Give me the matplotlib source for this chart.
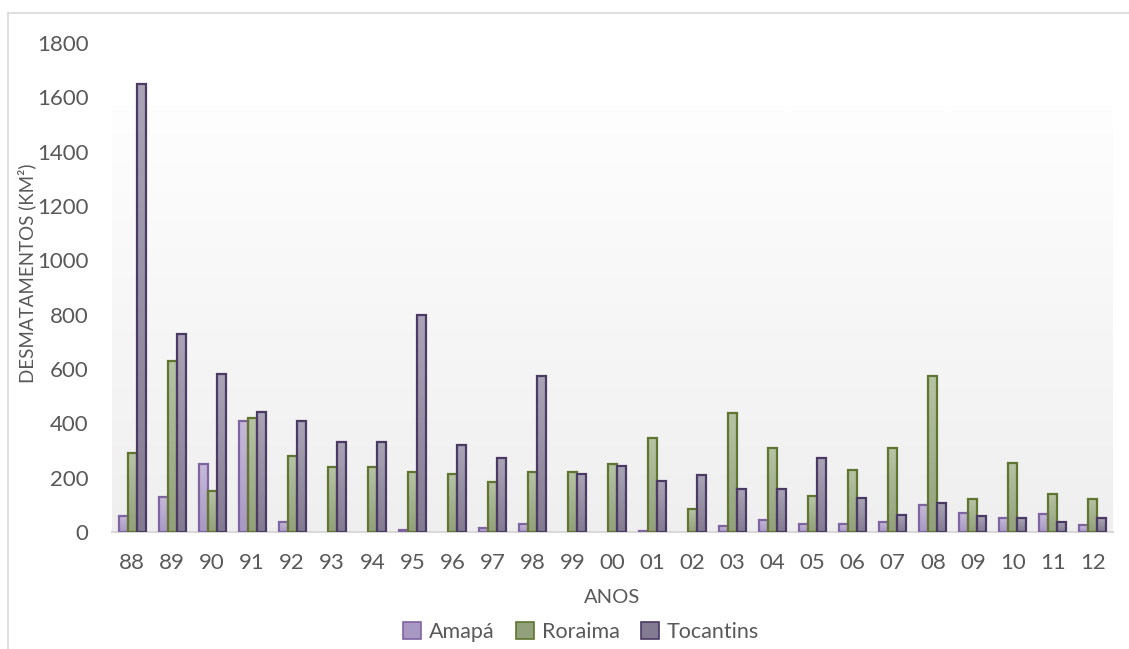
import numpy as np
import matplotlib
matplotlib.use("Agg")
import matplotlib.pyplot as plt
from matplotlib.colors import LinearSegmentedColormap
from matplotlib.patches import Patch
from matplotlib.lines import Line2D

anos = ["88", "89", "90", "91", "92", "93", "94", "95", "96", "97", "98", "99", "00",
        "01", "02", "03", "04", "05", "06", "07", "08", "09", "10", "11", "12"]
amapa = [60, 130, 250, 410, 35, 0, 0, 8, 0, 15, 30, 0, 0,
         5, 0, 22, 45, 30, 28, 37, 100, 70, 53, 65, 25]
roraima = [290, 630, 150, 420, 280, 240, 240, 220, 215, 185, 222, 220, 252,
           345, 84, 438, 310, 132, 230, 308, 574, 120, 255, 140, 123]
tocantins = [1650, 730, 580, 440, 408, 332, 332, 797, 320, 272, 576, 215, 244,
             188, 210, 157, 158, 271, 124, 63, 107, 60, 50, 38, 50]

series = [
    ("Amapá", amapa, "#c6bad8", "#a898c4", "#8064a2"),
    ("Roraima", roraima, "#b7c3a5", "#92a17b", "#5f7530"),
    ("Tocantins", tocantins, "#a9a5b6", "#837b92", "#4b3a64"),
]

plt.rcParams["font.family"] = ["Lato", "DejaVu Sans"]
cinza = "#595959"

fig = plt.figure(figsize=(11.29, 6.49), dpi=100)
ax = fig.add_axes([112 / 1129, 1 - 532 / 649, 1001 / 1129, 489 / 649])

# moldura do grafico (so topo e esquerda aparecem)
fig.add_artist(Line2D([7.5 / 1129, 7.5 / 1129], [0, 1 - 12.5 / 649],
                      transform=fig.transFigure, color="#d9d9d9", lw=1.2))
fig.add_artist(Line2D([7.5 / 1129, 1], [1 - 12.5 / 649, 1 - 12.5 / 649],
                      transform=fig.transFigure, color="#d9d9d9", lw=1.2))

n = len(anos)

# fundo em degrade da area de plotagem (claro em cima, cinza embaixo)
fundo = np.linspace(0, 1, 256).reshape(-1, 1)
cmap_fundo = LinearSegmentedColormap.from_list("fundo", ["#fefefe", "#efefef"])
ax.imshow(fundo, cmap=cmap_fundo, aspect="auto", extent=(-0.5, n - 0.5, 0, 1569),
          origin="upper", zorder=0, interpolation="bilinear")

x = np.arange(n)
w = 0.225
grad = np.linspace(0, 1, 64).reshape(-1, 1)
for k, (nome, vals, c_top, c_bot, c_edge) in enumerate(series):
    cm = LinearSegmentedColormap.from_list(nome, [c_top, c_bot])
    pos = x + (k - 1) * w
    bars = ax.bar(pos, vals, width=w, facecolor="none", edgecolor=c_edge,
                  linewidth=1.6, zorder=3)
    for b, v in zip(bars, vals):
        if v <= 0:
            b.set_visible(False)
            continue
        x0 = b.get_x()
        ax.imshow(grad, cmap=cm, aspect="auto", extent=(x0, x0 + w, 0, v),
                  origin="upper", zorder=2, interpolation="bilinear")
ax.set_xlim(-0.5, n - 0.5)
ax.set_ylim(0, 1800)

for s in ["top", "right", "left"]:
    ax.spines[s].set_visible(False)
ax.spines["bottom"].set_color("#d9d9d9")
ax.spines["bottom"].set_linewidth(1.5)
ax.spines["bottom"].set_zorder(1)

ax.set_yticks(range(0, 1801, 200))
ax.set_xticks(x)
ax.set_xticklabels(anos)
ax.tick_params(axis="y", length=0, pad=17, labelsize=16, labelcolor=cinza)
ax.tick_params(axis="x", length=0, pad=15, labelsize=16, labelcolor=cinza)

ax.set_ylabel("DESMATAMENTOS (KM²)", fontsize=13.5, color=cinza)
ax.yaxis.set_label_coords(-76 / 1001, (532 - 273) / 489)
ax.set_xlabel("ANOS", fontsize=14.5, color=cinza)
ax.xaxis.set_label_coords(0.5, -(589 - 532) / 489)

handles = [Patch(facecolor=c_bot, edgecolor=c_edge, linewidth=1.2, label=nome)
           for nome, _, c_top, c_bot, c_edge in series]
fig.legend(handles=handles, loc="center", bbox_to_anchor=(581 / 1129, 1 - 632 / 649),
           ncol=3, frameon=False, fontsize=15.5, handlelength=0.85, handleheight=0.85,
           handletextpad=0.35, columnspacing=1.0, labelcolor=cinza)

fig.savefig("out.png", dpi=100)
